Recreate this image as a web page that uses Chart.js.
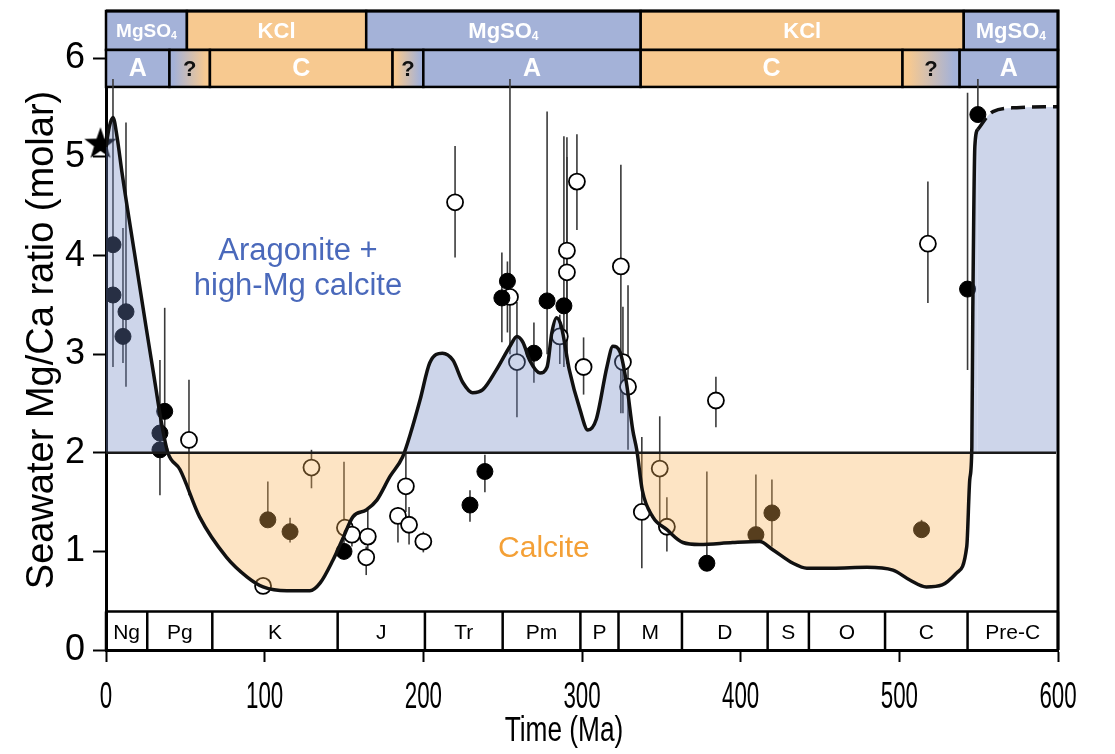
<!DOCTYPE html>
<html>
<head>
<meta charset="utf-8">
<script src="https://cdn.jsdelivr.net/npm/chart.js@4.4.1/dist/chart.umd.min.js"></script>
<style>
  body { margin: 0; background: #fff; }
  #wrap { width: 1115px; height: 754px; }
</style>
</head>
<body>
<div id="wrap"><canvas id="chart" width="1115" height="754"></canvas></div>
<script>
// seawater Mg/Ca curve (Ma, molar ratio)
const curveAge = [0, 2, 4.4, 7, 10, 17.9, 25, 30, 35, 39, 46.6, 59, 76, 89, 99, 114, 128.5, 135, 143, 149,
  155.6, 164, 170.7, 179, 187, 192, 198, 204, 212, 218.6, 225, 231, 237.5, 246, 254.6, 259, 262.8, 267, 273.5,
  278, 281, 284, 287, 292, 298.7, 303.7, 309, 315.7, 319.5, 324, 328, 332, 334.5, 338, 344.6, 353.5, 363.6,
  374, 395, 412, 420, 433, 441.7, 458, 479.5, 496, 506.6, 517, 527, 536, 542.5, 544.4, 545.7, 546.3, 547.6,
  549.5, 559, 574, 600];
const curveRatio = [5.1, 5.3, 5.4, 5.2, 4.85, 4.03, 3.3, 2.8, 2.3, 2.0, 1.83, 1.35, 0.94, 0.74, 0.64, 0.6, 0.6, 0.68, 0.91, 1.12,
  1.35, 1.42, 1.52, 1.76, 1.96, 2.2, 2.54, 2.91, 3.01, 2.94, 2.71, 2.61, 2.64, 2.84, 3.08, 3.18, 3.12, 2.94, 2.81,
  2.87, 3.22, 3.37, 3.28, 2.84, 2.44, 2.23, 2.34, 2.87, 3.08, 3.02, 2.71, 2.23, 2.03, 1.62, 1.35, 1.22, 1.09,
  1.07, 1.09, 1.1, 1.02, 0.88, 0.83, 0.83, 0.84, 0.81, 0.71, 0.64, 0.66, 0.78, 1.05, 1.73, 2.06, 3.42, 5.11,
  5.28, 5.46, 5.5, 5.51];
const dashedFrom = 549.5;

// fluid inclusion / proxy estimates (filled symbols)
const filledAge = [4.4, 4.4, 12.6, 10.7, 37, 34, 34, 102, 116, 150, 229.4, 238.8, 253, 249.5, 269.7, 278, 288.6, 378.7, 409.6, 419.7, 514, 543, 549.5];
const filledRatio = [4.11, 3.6, 3.43, 3.18, 2.42, 2.2, 2.03, 1.32, 1.2, 1.0, 1.47, 1.81, 3.74, 3.57, 3.01, 3.54, 3.49, 0.88, 1.17, 1.39, 1.22, 3.66, 5.43];
const filledLow = [null, 2.87, 2.67, 2.91, 2.2, null, 1.57, 1.28, 1.09, 1.0, 1.3, 1.6, 3.22, 3.12, 2.71, 3.0, 2.87, 0.88, 1.17, 1.05, 1.22, 2.84, 5.43];
const filledHigh = [null, 5.79, 5.35, 4.28, 3.47, null, 2.94, 1.71, 1.34, 1.91, 1.62, 1.98, 3.94, 4.03, 3.32, 5.46, 5.21, 1.81, 1.78, 1.73, 1.32, 5.65, 5.79];

// open symbols
const openAge = [52.3, 99, 129.5, 150.6, 155, 165, 164, 184, 189, 191, 200, 220, 254.6, 259, 286, 290.5, 290.5, 296.8, 301, 324.5, 325.8, 329, 337.7, 349, 353.5, 384.4, 518];
const openRatio = [2.13, 0.65, 1.85, 1.24, 1.17, 1.15, 0.94, 1.36, 1.66, 1.27, 1.1, 4.54, 3.58, 2.92, 3.18, 4.05, 3.83, 4.75, 2.87, 3.89, 2.92, 2.67, 1.4, 1.84, 1.25, 2.53, 4.12];
const openLow = [1.57, null, 1.64, null, 1.05, 1.0, 0.76, 1.09, 1.4, 1.07, 0.99, 3.98, 3.0, 2.36, 2.9, 2.9, 3.0, 4.26, 2.59, 2.4, 2.4, 2.03, 0.83, 1.25, 1.0, 2.26, 3.52];
const openHigh = [2.74, null, 2.03, null, 1.24, 1.42, 1.05, 1.45, 2.0, 1.45, 1.2, 5.11, 5.79, 3.53, 3.4, 5.2, 5.0, 5.23, 3.17, 4.92, 3.48, 3.7, 2.16, 2.37, 1.55, 2.77, 4.75];

// modern seawater
const starAge = [-3.5];
const starRatio = [5.15];

// top bands
const saltEdges = [0, 51, 164, 337, 540.6, 600];
const saltLabels = ["MgSO4", "KCl", "MgSO4", "KCl", "MgSO4"];
const seaEdges = [0, 40, 65.5, 180.6, 200, 337, 502, 538, 600];
const seaLabels = ["A", "?", "C", "?", "A", "C", "?", "A"];

// geological periods
const periodEdges = [0, 26, 67, 146, 201, 250, 299, 323, 363, 417, 443, 491, 543, 600];
const periodLabels = ["Ng", "Pg", "K", "J", "Tr", "Pm", "P", "M", "D", "S", "O", "C", "Pre-C"];

const xTicks = [0, 100, 200, 300, 400, 500, 600];
const yTicks = [0, 1, 2, 3, 4, 5, 6];
const threshold = 2;

const BLUE = "#a4b2d8";
const ORANGE = "#f7c990";
const FONT = "'Liberation Sans', Arial, sans-serif";

function makeStar(size) {
  const c = document.createElement("canvas");
  c.width = size;
  c.height = size;
  const g = c.getContext("2d");
  g.fillStyle = "#000";
  g.beginPath();
  for (let i = 0; i < 10; i++) {
    const r = i % 2 ? size * 0.2 : size * 0.5;
    const a = -Math.PI / 2 + (i * Math.PI) / 5;
    g.lineTo(size / 2 + r * Math.cos(a), size / 2 + size * 0.06 + r * Math.sin(a));
  }
  g.closePath();
  g.fill();
  return c;
}

function text(ctx, str, x, y, size, opts = {}) {
  ctx.save();
  ctx.font = `${opts.weight || "normal"} ${size}px ${FONT}`;
  ctx.fillStyle = opts.color || "#000";
  ctx.textAlign = opts.align || "center";
  ctx.textBaseline = opts.baseline || "alphabetic";
  ctx.translate(x, y);
  if (opts.rotate) ctx.rotate(opts.rotate);
  ctx.scale(opts.sx || 1, 1);
  ctx.fillText(str, 0, 0);
  ctx.restore();
}

function saltText(ctx, label, cx, cy, size) {
  ctx.save();
  ctx.fillStyle = "#fff";
  ctx.textBaseline = "middle";
  ctx.textAlign = "left";
  if (label === "MgSO4") {
    ctx.font = `bold ${size}px ${FONT}`;
    const w1 = ctx.measureText("MgSO").width;
    ctx.font = `bold ${size * 0.55}px ${FONT}`;
    const w2 = ctx.measureText("4").width;
    const x0 = cx - (w1 + w2) / 2;
    ctx.font = `bold ${size}px ${FONT}`;
    ctx.fillText("MgSO", x0, cy);
    ctx.font = `bold ${size * 0.55}px ${FONT}`;
    ctx.fillText("4", x0 + w1, cy + size * 0.25);
  } else {
    ctx.font = `bold ${size}px ${FONT}`;
    ctx.textAlign = "center";
    ctx.fillText(label, cx, cy);
  }
  ctx.restore();
}

const colorOf = (l) => (l === "A" || l === "MgSO4" ? BLUE : ORANGE);

const decorations = {
  id: "decorations",
  beforeDraw(chart) {
    const ctx = chart.ctx;
    ctx.save();
    ctx.fillStyle = "#fff";
    ctx.fillRect(0, 0, chart.width, chart.height);
    ctx.restore();
  },
  beforeDatasetsDraw(chart) {
    const { ctx, scales: { x, y } } = chart;
    ctx.save();
    ctx.lineWidth = 2.5;
    ctx.strokeStyle = "#000";

    // salt row
    const r1a = y.getPixelForValue(6.48), r1b = y.getPixelForValue(6.085);
    saltLabels.forEach((l, i) => {
      const x0 = x.getPixelForValue(saltEdges[i]), x1 = x.getPixelForValue(saltEdges[i + 1]);
      ctx.fillStyle = colorOf(l);
      ctx.fillRect(x0, r1a, x1 - x0, r1b - r1a);
      ctx.strokeRect(x0, r1a, x1 - x0, r1b - r1a);
      saltText(ctx, l, (x0 + x1) / 2, (r1a + r1b) / 2 + 1, i === 0 ? 19 : 22);
    });

    // mineralogy row
    const r2a = y.getPixelForValue(6.085), r2b = y.getPixelForValue(5.71);
    seaLabels.forEach((l, i) => {
      const x0 = x.getPixelForValue(seaEdges[i]), x1 = x.getPixelForValue(seaEdges[i + 1]);
      if (l === "?") {
        const gr = ctx.createLinearGradient(x0, 0, x1, 0);
        gr.addColorStop(0.1, colorOf(seaLabels[i - 1]));
        gr.addColorStop(0.9, colorOf(seaLabels[i + 1]));
        ctx.fillStyle = gr;
      } else {
        ctx.fillStyle = colorOf(l);
      }
      ctx.fillRect(x0, r2a, x1 - x0, r2b - r2a);
      ctx.strokeRect(x0, r2a, x1 - x0, r2b - r2a);
      ctx.save();
      ctx.font = `bold ${l === "?" ? 22 : 25}px ${FONT}`;
      ctx.fillStyle = l === "?" ? "#111" : "#fff";
      ctx.textAlign = "center";
      ctx.textBaseline = "middle";
      ctx.fillText(l, (x0 + x1) / 2, (r2a + r2b) / 2 + 1);
      ctx.restore();
    });

    // period row
    const pTop = y.getPixelForValue(0.39), pBot = y.getPixelForValue(0);
    ctx.beginPath();
    ctx.moveTo(x.getPixelForValue(0), pTop);
    ctx.lineTo(x.getPixelForValue(600), pTop);
    periodEdges.forEach((e) => {
      ctx.moveTo(x.getPixelForValue(e), pTop);
      ctx.lineTo(x.getPixelForValue(e), pBot);
    });
    ctx.stroke();
    periodLabels.forEach((l, i) => {
      const cx = (x.getPixelForValue(periodEdges[i]) + x.getPixelForValue(periodEdges[i + 1])) / 2;
      text(ctx, l, cx, (pTop + pBot) / 2 + 8, 21);
    });

    // error bars
    ctx.strokeStyle = "#3a3a3a";
    ctx.lineWidth = 1.6;
    const bars = (ages, lo, hi) => ages.forEach((a, i) => {
      if (lo[i] == null) return;
      const px = x.getPixelForValue(a);
      ctx.beginPath();
      ctx.moveTo(px, y.getPixelForValue(lo[i]));
      ctx.lineTo(px, y.getPixelForValue(hi[i]));
      ctx.stroke();
    });
    bars(filledAge, filledLow, filledHigh);
    bars(openAge, openLow, openHigh);
    ctx.restore();
  },
  afterDatasetsDraw(chart) {
    const { ctx, chartArea: a, scales: { x, y } } = chart;
    ctx.save();
    // threshold line
    ctx.strokeStyle = "#1a1a1a";
    ctx.lineWidth = 2.5;
    ctx.beginPath();
    ctx.moveTo(a.left, y.getPixelForValue(threshold));
    ctx.lineTo(a.right - 2, y.getPixelForValue(threshold));
    ctx.stroke();
    // frame
    ctx.strokeStyle = "#000";
    ctx.lineWidth = 3;
    ctx.beginPath();
    ctx.moveTo(a.left, a.top);
    ctx.lineTo(a.right, a.top);
    ctx.lineTo(a.right, a.bottom);
    ctx.stroke();
    ctx.restore();

    // region labels
    text(ctx, "Aragonite +", x.getPixelForValue(121), y.getPixelForValue(3.96), 31, { color: "#4a69bb" });
    text(ctx, "high-Mg calcite", x.getPixelForValue(121), y.getPixelForValue(3.6), 31, { color: "#4a69bb" });
    text(ctx, "Calcite", x.getPixelForValue(276), y.getPixelForValue(0.94), 30, { color: "#f4a036" });

    // tick labels
    yTicks.forEach((v) => text(ctx, String(v), 85, y.getPixelForValue(v) + 10, 36, { align: "right" }));
    xTicks.forEach((v) => text(ctx, String(v), x.getPixelForValue(v), 708, 36, { sx: 0.62 }));

    // axis titles
    text(ctx, "Time (Ma)", 564, 741, 35, { sx: 0.75 });
    text(ctx, "Seawater Mg/Ca ratio (molar)", 53, 340, 38, { rotate: -Math.PI / 2 });
  },
};

const pts = (ages, vals) => ages.map((a, i) => ({ x: a, y: vals[i] }));

new Chart(document.getElementById("chart"), {
  type: "scatter",
  data: {
    datasets: [
      {
        type: "line",
        data: pts(curveAge, curveRatio),
        borderColor: "#111",
        borderWidth: 3.5,
        pointRadius: 0,
        cubicInterpolationMode: "monotone",
        fill: {
          target: { value: threshold },
          above: "rgba(112,135,195,0.35)",
          below: "rgba(249,178,86,0.35)",
        },
        segment: {
          borderDash: (c) => (c.p0.parsed.x >= dashedFrom ? [14, 7] : undefined),
        },
      },
      {
        data: pts(filledAge, filledRatio),
        pointRadius: 8,
        backgroundColor: "#000",
        borderColor: "#000",
        borderWidth: 1,
      },
      {
        data: pts(openAge, openRatio),
        pointRadius: 8,
        backgroundColor: "#fff",
        borderColor: "#000",
        borderWidth: 1.8,
      },
      {
        data: pts(starAge, starRatio),
        pointStyle: makeStar(34),
        pointRadius: 16,
        clip: false,
      },
    ],
  },
  options: {
    responsive: false,
    animation: false,
    events: [],
    layout: { autoPadding: false, padding: { left: 93, right: 57, top: 11, bottom: 91 } },
    plugins: { legend: { display: false }, tooltip: { enabled: false } },
    scales: {
      x: {
        type: "linear",
        min: 0,
        max: 600,
        afterBuildTicks: (s) => { s.ticks = xTicks.map((v) => ({ value: v })); },
        afterFit: (s) => { s.height = 13; },
        ticks: { display: false },
        grid: { drawOnChartArea: false, drawTicks: true, tickLength: 12, tickWidth: 2, color: "#000" },
        border: { display: true, width: 3, color: "#000" },
      },
      y: {
        min: 0,
        max: 6.48,
        afterBuildTicks: (s) => { s.ticks = yTicks.map((v) => ({ value: v })); },
        afterFit: (s) => { s.width = 13; },
        ticks: { display: false },
        grid: { drawOnChartArea: false, drawTicks: true, tickLength: 13, tickWidth: 2, color: "#000" },
        border: { display: true, width: 3, color: "#000" },
      },
    },
  },
  plugins: [decorations],
});
</script>
</body>
</html>
